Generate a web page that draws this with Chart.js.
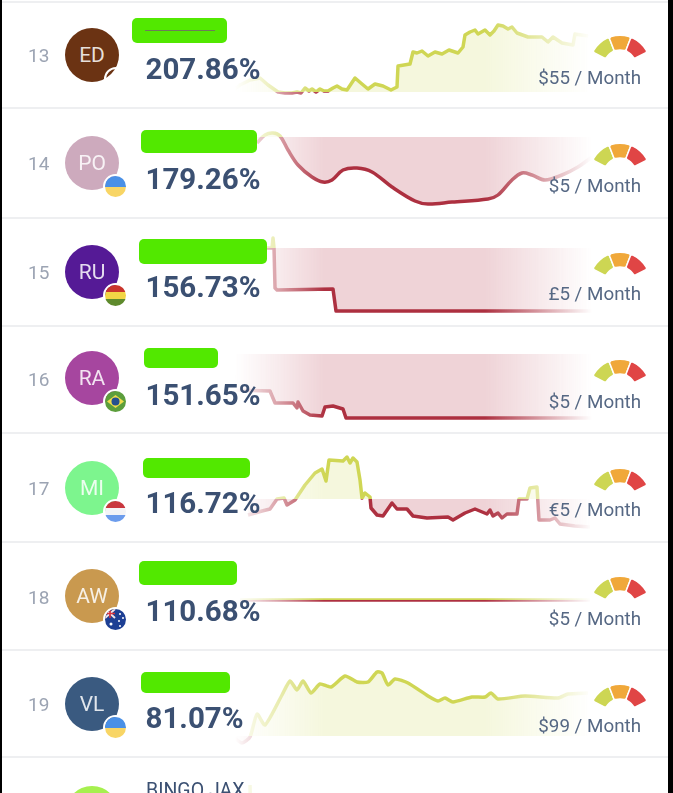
<!DOCTYPE html>
<html>
<head>
<meta charset="utf-8">
<script src="https://cdn.jsdelivr.net/npm/chart.js@4"></script>
<style>
  html, body { margin: 0; padding: 0; background: #000; }
  #page { position: absolute; left: 1.5px; top: 0; width: 666.5px; height: 793px; background: #fff; overflow: hidden; font-family: Roboto, sans-serif; }
  #page > * { position: absolute; }
  #wrap { left: -1.5px; top: 0; width: 673px; height: 793px; filter: blur(0.4px); }
  #wrap > * { position: absolute; }
  .divider { left: 0; width: 673px; height: 2px; background: #eeeff1; }
  .spark, .gauge { pointer-events: none; }
  .rank { left: 28px; font-size: 19px; color: #9ca4b3; transform: translateY(-50%); }
  .avatar { width: 54px; height: 54px; border-radius: 50%; left: 65px; color: rgba(255,255,255,.85); font-size: 21px; line-height: 54px; text-align: center; }
  .badge { width: 21px; height: 21px; border-radius: 50%; border: 2px solid #fff; overflow: hidden; }
  .badge svg { display: block; }
  .namebox { background: #52e800; border-radius: 5px; }
  .ret { left: 145.5px; font-size: 29.5px; font-weight: 700; color: #3b5072; transform: translateY(-50%); }
  .price { right: 32px; font-size: 18.8px; color: #566884; transform: translateY(-50%); }
</style>
</head>
<body>
<div id="page"><div id="wrap"></div></div>
<script>
// ---------- leaderboard values ----------
const ranks = [13, 14, 15, 16, 17, 18, 19];
const initials = ["ED", "PO", "RU", "RA", "MI", "AW", "VL"];
const returns = ["207.86%", "179.26%", "156.73%", "151.65%", "116.72%", "110.68%", "81.07%"];
const prices = ["$55 / Month", "$5 / Month", "£5 / Month", "$5 / Month", "€5 / Month", "$5 / Month", "$99 / Month"];
const gaugeShares = [1, 1, 1];

// each sparkline: days and value against the zero line
const edDays = [5, 15, 25, 35, 43, 53, 60, 67, 72, 76, 80, 84, 87, 91, 95, 99, 103, 108, 112, 117, 122, 126, 130, 137, 143, 150, 158, 166, 172, 173, 185, 188, 192, 197, 203, 210, 217, 224, 233, 238, 240, 245, 250, 253, 260, 265, 269, 273, 278, 283, 287, 292, 303, 317, 323, 328, 337, 348, 350, 363];
const edValues = [-1, 7, 12, 14, 7, 0, -1, -1, 0, -1, 4, 1, 3, 0, 3, 1, 1, 4, 6, 3, 2, 8, 14, 8, 3, 8, 6, 2, 5, 26, 28, 40, 39, 41, 36, 40, 38, 42, 39, 45, 57, 60, 62, 58, 62, 57, 61, 67, 66, 63, 65, 59, 55, 55, 50, 55, 49, 47, 58, 56];

const poDays = [32, 40, 48, 55, 63, 73, 87, 98, 107, 118, 132, 147, 167, 190, 203, 227, 263, 273, 287, 297, 307, 320, 337, 353, 367];
const poValues = [-6, 2, 4, 1, -13, -28, -40, -45, -43, -33, -31, -35, -50, -64, -67, -65, -62, -58, -43, -36, -38, -43, -38, -30, -20];

const ruDays = [30, 47, 48, 49, 50, 52, 108, 111, 367];
const ruValues = [0, 0, 10, 0, -40, -42, -41, -63, -63];

const raDays = [7, 10, 45, 50, 68, 72, 73, 78, 85, 97, 100, 108, 118, 121, 367];
const raValues = [-3, -36, -37, -49, -49, -54, -48, -57, -61, -62, -53, -52, -55, -64, -64];

const miDays = [23, 37, 45, 52, 59, 62, 70, 80, 90, 97, 101, 104, 118, 122, 125, 128, 132, 135, 137, 140, 145, 146, 152, 158, 167, 172, 182, 188, 202, 223, 228, 240, 250, 262, 265, 268, 273, 277, 282, 292, 294, 302, 305, 312, 314, 325, 330, 335, 350, 365];
const miValues = [-16, -12, -10, 0, 1, -6, -1, 14, 26, 30, 18, 39, 38, 42, 36, 41, 37, 19, 1, 6, 2, -9, -16, -17, -4, -10, -10, -17, -19, -18, -21, -14, -10, -15, -11, -17, -14, -19, -15, -15, 0, 0, 11, 12, -21, -21, -19, -25, -27, -28];

const awDays = [15, 365];
const awValues = [0, 0];

const vlDays = [8, 17, 25, 32, 40, 57, 65, 72, 78, 86, 95, 106, 120, 132, 143, 152, 157, 163, 170, 183, 203, 213, 220, 228, 247, 260, 266, 273, 300, 333, 343, 363];
const vlValues = [-1, -7, -1, 22, 11, 41, 55, 46, 55, 43, 52, 49, 60, 54, 54, 64, 63, 51, 57, 53, 40, 35, 38, 34, 39, 39, 43, 37, 40, 38, 42, 43];

const biDays = [25, 26];
const biValues = [30, -30];

// ---------- layout ----------
const seriesDays = [edDays, poDays, ruDays, raDays, miDays, awDays, vlDays, biDays];
const seriesValues = [edValues, poValues, ruValues, raValues, miValues, awValues, vlValues, biValues];
const seriesTension = [0, 0.35, 0, 0, 0, 0, 0.2, 0];
const zeroLines = [92, 137, 248, 354, 499, 600, 736, 815];
const gaugeTops = [34, 142, 251, 358, 467, 575, 683, 791];
const dividerTops = [2, 108, 218, 326, 433, 542, 650, 757];
const rankYs = [55, 163, 272, 379, 488, 597, 704];
const avatarYs = [55, 163, 272, 378, 488, 596, 704, 813];
const retYs = [68.5, 178.5, 286.5, 394.5, 502.5, 610.5, 717.5];
const priceYs = [78, 186, 294, 402, 510, 619, 726];
const avatarColors = ["#6b3313", "#cdaabd", "#551a96", "#a6469f", "#7df58e", "#c9994f", "#3a5a80", "#a6f04f"];
const nameBoxes = [[132, 18, 95, 25], [141, 130, 116, 23], [139, 239, 128, 25], [144, 348, 74, 20], [143, 458, 107, 20], [139, 561, 98, 24], [141, 672, 89, 21]];

const YELLOW = "#cfd654";
const RED = "#ad3040";
const wrap = document.getElementById("wrap");

const flagStripes = (a, b, c) =>
  `<svg width="21" height="21"><rect width="21" height="7" fill="${a}"/><rect y="7" width="21" height="7" fill="${b}"/><rect y="14" width="21" height="7" fill="${c}"/></svg>`;
const flags = [
  "",
  `<svg width="21" height="21"><rect width="21" height="11" fill="#4a90e6"/><rect y="11" width="21" height="10" fill="#f8d565"/></svg>`,
  flagStripes("#c9352c", "#f2d545", "#5e8a2c"),
  `<svg width="21" height="21"><rect width="21" height="21" fill="#5c9e3c"/><path d="M10.5 4L19 10.5L10.5 17L2 10.5Z" fill="#f0dc4c"/><circle cx="10.5" cy="10.5" r="4" fill="#26508f"/></svg>`,
  flagStripes("#c9373e", "#f4f4f6", "#6c9cec"),
  `<svg width="21" height="21"><rect width="21" height="21" fill="#1d3f94"/><path d="M0 0L10 9M10 0L0 9" stroke="#f0e4e8" stroke-width="2"/><path d="M5 0V9M0 4.5H10" stroke="#d8323c" stroke-width="1.6"/><g fill="#fff"><circle cx="15" cy="5" r="1"/><circle cx="18" cy="9" r="1"/><circle cx="14" cy="12" r="1"/><circle cx="15" cy="17" r="1"/><circle cx="6" cy="15" r="1.5"/></g></svg>`,
  `<svg width="21" height="21"><rect width="21" height="11" fill="#4a90e6"/><rect y="11" width="21" height="10" fill="#f8d565"/></svg>`
];

function addEl(cls, css, text) {
  const el = document.createElement("div");
  el.className = cls;
  Object.assign(el.style, css);
  if (text) el.textContent = text;
  wrap.appendChild(el);
  return el;
}

// fades both ends of the sparkline out to white
const edgeFade = {
  id: "edgeFade",
  afterDraw(chart) {
    const { ctx, scales, width, height } = chart;
    const g = ctx.createLinearGradient(scales.x.getPixelForValue(10), 0, scales.x.getPixelForValue(367), 0);
    g.addColorStop(0, "rgba(0,0,0,0)");
    g.addColorStop(0.12, "rgba(0,0,0,0.45)");
    g.addColorStop(0.25, "rgba(0,0,0,1)");
    g.addColorStop(0.7, "rgba(0,0,0,1)");
    g.addColorStop(0.85, "rgba(0,0,0,0.5)");
    g.addColorStop(1, "rgba(0,0,0,0)");
    ctx.save();
    ctx.globalCompositeOperation = "destination-in";
    ctx.fillStyle = g;
    ctx.fillRect(0, 0, width, height);
    ctx.restore();
  }
};

function lineColor(context) {
  const chart = context.chart;
  if (!chart.chartArea) return YELLOW;
  const zero = chart.scales.y.getPixelForValue(0) / chart.height;
  const g = chart.ctx.createLinearGradient(0, 0, 0, chart.height);
  g.addColorStop(0, YELLOW);
  g.addColorStop(zero, YELLOW);
  g.addColorStop(zero, RED);
  g.addColorStop(1, RED);
  return g;
}

function makeSpark(i) {
  const canvas = document.createElement("canvas");
  canvas.className = "spark";
  canvas.width = 370;
  canvas.height = 160;
  canvas.style.left = "225px";
  canvas.style.top = (zeroLines[i] - 80) + "px";
  wrap.appendChild(canvas);
  new Chart(canvas, {
    type: "line",
    data: {
      datasets: [{
        data: seriesDays[i].map((d, k) => ({ x: d, y: seriesValues[i][k] })),
        borderColor: lineColor,
        borderWidth: 3.5,
        borderJoinStyle: "round",
        pointRadius: 0,
        tension: seriesTension[i],
        clip: false,
        fill: { target: { value: 0 }, above: "rgba(207,214,84,0.2)", below: "rgba(181,55,74,0.22)" }
      }]
    },
    options: {
      responsive: false,
      animation: false,
      devicePixelRatio: 1,
      layout: { padding: 0 },
      plugins: { legend: { display: false }, tooltip: { enabled: false } },
      scales: {
        x: { type: "linear", min: 0, max: 370, display: false },
        y: { min: -80, max: 80, display: false }
      }
    },
    plugins: [edgeFade]
  });
}

function makeGauge(top) {
  const canvas = document.createElement("canvas");
  canvas.className = "gauge";
  canvas.width = 56;
  canvas.height = 26;
  canvas.style.left = "592px";
  canvas.style.top = top + "px";
  wrap.appendChild(canvas);
  new Chart(canvas, {
    type: "doughnut",
    data: { datasets: [{ data: gaugeShares, backgroundColor: ["#cdd653", "#f0a83a", "#e04545"], borderColor: "#fff", borderWidth: 1.5, borderRadius: 2 }] },
    options: {
      responsive: false,
      animation: false,
      devicePixelRatio: 1,
      rotation: -63,
      circumference: 126,
      cutout: "52%",
      plugins: { legend: { display: false }, tooltip: { enabled: false } }
    }
  });
}

// ---------- build page ----------
dividerTops.forEach((y) => addEl("divider", { top: y - 1 + "px" }));
zeroLines.forEach((_, i) => makeSpark(i));
gaugeTops.forEach(makeGauge);

avatarYs.forEach((y, i) => {
  addEl("avatar", { top: y - 27 + "px", background: avatarColors[i] }, initials[i] || "");
});

ranks.forEach((rank, i) => {
  addEl("rank", { top: rankYs[i] + "px" }, String(rank));
  addEl("ret", { top: retYs[i] + "px" }, returns[i]);
  addEl("price", { top: priceYs[i] + "px" }, prices[i]);
  const [x, y, w, h] = nameBoxes[i];
  addEl("namebox", { left: x + "px", top: y + "px", width: w + "px", height: h + "px" });
  if (flags[i]) {
    const badge = addEl("badge", { left: 103 + "px", top: avatarYs[i] + 11 + "px" });
    badge.innerHTML = flags[i];
  }
});

// first row: only a dark scratch in the name box and the ring of a badge
addEl("scratch", { left: "145px", top: "30px", width: "70px", height: "1px", background: "#6e7a5a" });
addEl("ring", { left: "104px", top: "67px", width: "24px", height: "24px", borderRadius: "50%", border: "2px solid #fff", boxSizing: "border-box" });
addEl("ringcut", { left: "111px", top: "71px", width: "24px", height: "24px", borderRadius: "50%", background: "#fff" });

// cut-off row at the bottom
addEl("nameline", { left: "146px", top: "780px", fontSize: "19.5px", color: "#3b5072", lineHeight: "22px" }, "BINGO JAX");
</script>
</body>
</html>
